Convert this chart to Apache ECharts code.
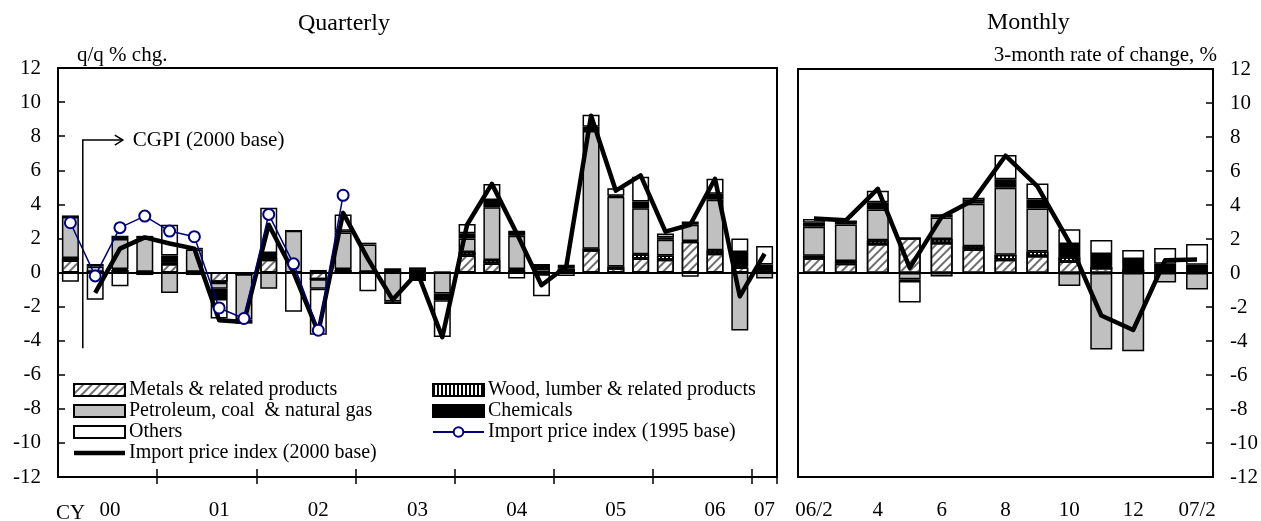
<!DOCTYPE html>
<html><head><meta charset="utf-8">
<script src="https://cdn.jsdelivr.net/npm/echarts@6/dist/echarts.min.js"></script>
<style>html,body{margin:0;padding:0;background:#fff}#c{width:1261px;height:521px}</style>
</head><body><div id="c"></div>
<script>
// ---------- DATA ----------
const quarters = ['2000Q1','2000Q2','2000Q3','2000Q4','2001Q1','2001Q2','2001Q3','2001Q4',
  '2002Q1','2002Q2','2002Q3','2002Q4','2003Q1','2003Q2','2003Q3','2003Q4',
  '2004Q1','2004Q2','2004Q3','2004Q4','2005Q1','2005Q2','2005Q3','2005Q4',
  '2006Q1','2006Q2','2006Q3','2006Q4','2007Q1'];
const yearLabels = ['00','01','02','03','04','05','06','07'];
const yearLabelIndex = [2,6,10,14,18,22,26,28];
const months = ['06/2','06/3','06/4','06/5','06/6','06/7','06/8','06/9','06/10','06/11','06/12','07/1','07/2'];
const monthTickLabels = ['06/2','4','6','8','10','12','07/2'];
const yTicks = [-12,-10,-8,-6,-4,-2,0,2,4,6,8,10,12];

const qMetals    = [0.7,0.05,0.15,0.05,0.5,0.05,-0.55,-0.1,0.75,0,-0.4,0.15,0.05,0,0.05,0,1.0,0.53,0.15,-0.1,0.15,1.3,0.25,0.82,0.75,1.8,1.1,0.3,0.05];
const qWood      = [0.15,0,0.05,0,0.1,0,-0.05,0,0.1,0,0,0.05,0,0,0,0,0.2,0.2,0.05,0,0,0.1,0.1,0.25,0.25,0.05,0.2,0.05,0];
const qPetroleum = [2.4,0.3,1.76,1.95,-1.2,1.3,-0.35,-2.65,-0.95,2.45,-0.55,2.15,1.6,-1.7,0.1,-1.23,0.8,3.1,1.95,0.2,0.1,6.9,4.1,2.7,0.92,0.95,2.97,-3.4,-0.35];
const qChemicals = [0.1,0.15,0.2,0.15,0.4,0.1,-0.6,-0.15,0.3,0,0.15,0.1,0.1,0.25,-0.5,-0.4,0.3,0.43,0.3,0.3,0.2,0.25,0.05,0.4,0.15,0.2,0.35,0.85,0.42];
const qOthers    = [-0.55,-1.6,-0.8,-0.15,1.8,-0.15,-1.15,-0.1,2.65,-2.3,-2.7,0.95,-1.1,-0.15,0.15,-2.15,0.55,0.94,-0.35,-1.3,-0.2,0.7,0.45,1.45,0.22,-0.25,0.88,0.8,1.08];
const qImport2000 = [null,-1.2,1.4,2.06,1.7,1.4,-2.8,-2.9,2.8,0.0,-3.5,3.5,0.8,-1.6,0.0,-3.8,2.8,5.2,2.3,-0.75,0.35,9.2,4.8,5.7,2.4,2.8,5.5,-1.4,1.1];
const qImport1995 = [2.92,-0.2,2.63,3.31,2.43,2.1,-2.08,-2.7,3.41,0.51,-3.39,4.53,null,null,null,null,null,null,null,null,null,null,null,null,null,null,null,null,null];

const mMetals    = [0.87,0.55,1.7,2.04,1.77,1.38,0.78,1.0,0.68,0.3,0.15,0,0];
const mWood      = [0.15,0.15,0.23,0,0.23,0.2,0.3,0.27,0.25,0,0,0,0];
const mPetroleum = [1.7,2.15,1.8,-0.37,1.26,2.5,3.94,2.52,-0.76,-4.5,-4.6,-0.56,-0.97];
const mChemicals = [0.23,0.2,0.43,-0.1,0.2,0.15,0.5,0.54,0.78,0.82,0.68,0.54,0.49];
const mOthers    = [0.23,0,0.68,-1.26,-0.2,0.2,1.42,0.93,0.87,0.82,0.52,0.93,1.22];
const mImport2000 = [3.2,3.1,4.95,0.3,3.3,4.3,6.9,5.1,1.8,-2.5,-3.35,0.75,0.8];

const names = {
  metals: 'Metals & related products',
  wood: 'Wood, lumber & related products',
  pet: 'Petroleum, coal  & natural gas',
  chem: 'Chemicals',
  others: 'Others',
  imp2000: 'Import price index (2000 base)',
  imp1995: 'Import price index (1995 base)'
};

// ---------- STYLE ----------
const FONT = 'Liberation Serif';
const hatch = { symbol: 'rect', symbolSize: 1, dashArrayX: [1, 0], dashArrayY: [1.3, 3.2], rotation: -Math.PI / 4, color: '#6e6e6e' };
const stripes = { symbol: 'rect', symbolSize: 1, dashArrayX: [1.2, 1.3], dashArrayY: [1, 0], rotation: 0, color: '#000' };
const barStyles = {
  metals: { color: '#ffffff', borderColor: '#000', borderWidth: 1.5, decal: hatch },
  wood: { color: '#ffffff', borderColor: '#000', borderWidth: 1.5, decal: stripes },
  pet: { color: '#c0c0c0', borderColor: '#000', borderWidth: 1.5 },
  chem: { color: '#000000', borderColor: '#000', borderWidth: 1.5 },
  others: { color: '#ffffff', borderColor: '#000', borderWidth: 1.5 }
};

const tickEvery4 = (i) => i > 0 && i % 4 === 0;
const yearLabelShow = (i) => yearLabelIndex.indexOf(i) >= 0;

function barSeries(key, data, xi, yi, stack, width) {
  return {
    type: 'bar', name: names[key], data: data, xAxisIndex: xi, yAxisIndex: yi,
    stack: stack, barWidth: width, itemStyle: barStyles[key], z: 2,
    emphasis: { disabled: true }, animation: false
  };
}

const yAxisCommon = {
  type: 'value', min: -12, max: 12, interval: 2,
  axisLine: { show: true, lineStyle: { color: '#000', width: 2 } },
  axisTick: { show: true, inside: true, length: 7, lineStyle: { color: '#000', width: 1.5 } },
  splitLine: { show: false },
  axisLabel: { color: '#000', fontSize: 21, fontFamily: FONT, margin: 17,
    formatter: (v) => (yTicks.indexOf(v) >= 0 ? String(v) : '') }
};

const zeroLine = {
  silent: true, symbol: ['none', 'none'], label: { show: false },
  lineStyle: { color: '#000', width: 2, type: 'solid' },
  data: [{ yAxis: 0 }], animation: false
};

const lineIcon = 'path://M0 0H51V4.5H0Z';
const legendText = { fontSize: 20, fontFamily: FONT, color: '#000', padding: [0, 0, 0, -1] };

const option = {
  animation: false,
  backgroundColor: '#fff',
  textStyle: { fontFamily: FONT },
  grid: [
    { left: 58, top: 68, width: 719, height: 409, show: true, borderColor: '#000', borderWidth: 2, backgroundColor: 'transparent' },
    { left: 798, top: 69, width: 416, height: 412, show: true, borderColor: '#000', borderWidth: 2, backgroundColor: 'transparent' },
    { left: 58, top: 68, width: 719, height: 409, show: false }
  ],
  xAxis: [
    { gridIndex: 0, type: 'category', data: quarters, position: 'bottom',
      axisLine: { onZero: false, lineStyle: { color: '#000', width: 2 } },
      axisTick: { show: true, inside: true, length: 8, interval: tickEvery4, lineStyle: { color: '#000', width: 1.5 } },
      axisLabel: { show: false } },
    { gridIndex: 1, type: 'category', data: months, position: 'bottom',
      axisLine: { onZero: false, lineStyle: { color: '#000', width: 2 } },
      axisTick: { show: false },
      axisLabel: { color: '#000', fontSize: 21, fontFamily: FONT, margin: 23,
        interval: (i) => i % 2 === 0,
        formatter: (v, i) => monthTickLabels[i / 2] } },
    { gridIndex: 2, type: 'category', data: quarters, position: 'bottom',
      axisLine: { show: false, onZero: false },
      axisTick: { show: true, inside: false, length: 8, interval: tickEvery4, lineStyle: { color: '#000', width: 1.5 } },
      axisLabel: { color: '#000', fontSize: 21, fontFamily: FONT, margin: 24,
        interval: yearLabelShow,
        formatter: (v, i) => {
          const k = yearLabelIndex.indexOf(i);
          return k === 0 ? '{a|' + yearLabels[k] + '}' : yearLabels[k];
        },
        rich: { a: { fontSize: 21, fontFamily: FONT, color: '#000', padding: [0, 20, 0, 0] } } } }
  ],
  yAxis: [
    Object.assign({}, yAxisCommon, { gridIndex: 0, position: 'left' }),
    Object.assign({}, yAxisCommon, { gridIndex: 1, position: 'right' }),
    { gridIndex: 2, type: 'value', min: -12, max: 12, show: false }
  ],
  legend: [
    { data: [names.metals, names.pet, names.others, { name: names.imp2000, icon: lineIcon }],
      orient: 'vertical', left: 68, top: 375, icon: 'rect', symbolKeepAspect: true,
      itemWidth: 51, itemHeight: 12, itemGap: 1, selectedMode: false, textStyle: legendText },
    { data: [names.wood, names.chem, { name: names.imp1995, icon: 'inherit' }], orient: 'vertical', left: 427, top: 375,
      icon: 'rect', itemWidth: 51, itemHeight: 12, itemGap: 1, selectedMode: false, textStyle: legendText }
  ],
  series: [
    barSeries('metals', qMetals, 0, 0, 'q', 17),
    barSeries('wood', qWood, 0, 0, 'q', 17),
    barSeries('pet', qPetroleum, 0, 0, 'q', 17),
    barSeries('chem', qChemicals, 0, 0, 'q', 17),
    barSeries('others', qOthers, 0, 0, 'q', 17),
    barSeries('metals', mMetals, 1, 1, 'm', 22),
    barSeries('wood', mWood, 1, 1, 'm', 22),
    barSeries('pet', mPetroleum, 1, 1, 'm', 22),
    barSeries('chem', mChemicals, 1, 1, 'm', 22),
    barSeries('others', mOthers, 1, 1, 'm', 22),
    { type: 'line', name: names.imp2000, data: qImport2000, xAxisIndex: 0, yAxisIndex: 0,
      symbol: 'none', connectNulls: false, z: 5,
      lineStyle: { color: '#000', width: 4.5, join: 'round' }, itemStyle: { color: '#000' },
      markLine: zeroLine },
    { type: 'line', name: names.imp1995, data: qImport1995, xAxisIndex: 0, yAxisIndex: 0,
      symbol: 'circle', symbolSize: 11, showSymbol: true, z: 6,
      lineStyle: { color: '#000080', width: 1.5 },
      itemStyle: { color: '#fff', borderColor: '#000080', borderWidth: 2 } },
    { type: 'line', name: names.imp2000, data: mImport2000, xAxisIndex: 1, yAxisIndex: 1,
      symbol: 'none', z: 5,
      lineStyle: { color: '#000', width: 4.5, join: 'round' }, itemStyle: { color: '#000' },
      markLine: zeroLine }
  ],
  graphic: [
    { type: 'text', left: 298, top: 12, style: { text: 'Quarterly', font: '24px "Liberation Serif"', fill: '#000' } },
    { type: 'text', left: 987, top: 11, style: { text: 'Monthly', font: '24px "Liberation Serif"', fill: '#000' } },
    { type: 'text', left: 77, top: 45, style: { text: 'q/q % chg.', font: '21px "Liberation Serif"', fill: '#000' } },
    { type: 'text', right: 44, top: 45, style: { text: '3-month rate of change, %', font: '21px "Liberation Serif"', fill: '#000' } },
    { type: 'text', left: 56, top: 503, style: { text: 'CY', font: '21px "Liberation Serif"', fill: '#000' } }
  ]
};

const chart = echarts.init(document.getElementById('c'), null, { renderer: 'canvas' });
chart.setOption(option);

// CGPI (2000 base) annotation: boundary between first and second quarter
const p0 = chart.convertToPixel({ xAxisIndex: 0, yAxisIndex: 0 }, [0, 7.77]);
const p1 = chart.convertToPixel({ xAxisIndex: 0, yAxisIndex: 0 }, [1, -4.44]);
const bx = (p0[0] + p1[0]) / 2;
const yTop = p0[1], yBot = p1[1];
chart.setOption({
  graphic: option.graphic.concat([
    { type: 'polyline', shape: { points: [[bx, yBot], [bx, yTop], [bx + 40, yTop]] }, style: { stroke: '#000', lineWidth: 1.5, fill: null }, z: 10 },
    { type: 'polyline', shape: { points: [[bx + 32, yTop - 5], [bx + 40, yTop], [bx + 32, yTop + 5]] }, style: { stroke: '#000', lineWidth: 1.5, fill: null }, z: 10 },
    { type: 'text', x: bx + 50, y: yTop, style: { text: 'CGPI (2000 base)', font: '21px "Liberation Serif"', fill: '#000', verticalAlign: 'middle' }, z: 10 }
  ])
});
</script>
</body></html>
